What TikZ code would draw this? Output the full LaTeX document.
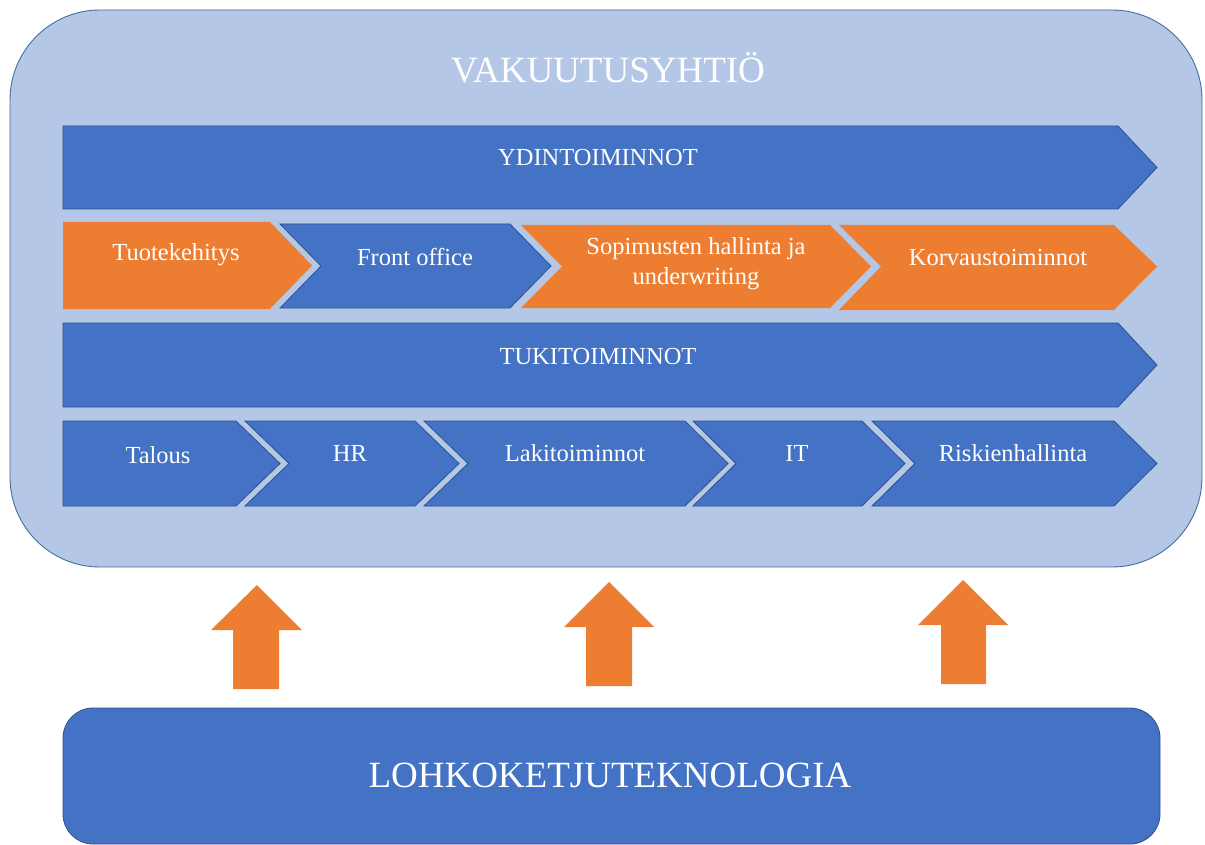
\documentclass[tikz,border=0pt]{standalone}
\usepackage{fontspec}
\setmainfont{Liberation Serif}
\definecolor{outerfill}{HTML}{B4C7E7}
\definecolor{outerline}{HTML}{41719C}
\definecolor{bluefill}{HTML}{4472C4}
\definecolor{blueline}{HTML}{2F528F}
\definecolor{orangefill}{HTML}{ED7D31}
\begin{document}
\begin{tikzpicture}[x=1pt,y=-1pt,
  bluebox/.style={fill=bluefill,draw=blueline,line width=0.8pt},
  orangebox/.style={fill=orangefill,draw=none},
  lbl/.style={text=white,font=\fontsize{24.5}{30}\selectfont,align=center,inner sep=0pt},
  uparrow/.style={fill=orangefill,draw=none}]
\useasboundingbox (0,0) rectangle (1205,845);
% outer container
\draw[fill=outerfill,draw=outerline,line width=0.9pt,rounded corners=90pt] (10,10) rectangle (1202,567);
\node[text=white,font=\fontsize{37}{42}\selectfont,inner sep=0pt] (title) at (608,68) {VAKUUTUSYHTIÖ};
% row 1
\draw[bluebox] (63,126) -- (1118,126) -- (1157,167.5) -- (1118,209) -- (63,209) -- cycle;
\node[lbl] (core) at (598,158) {YDINTOIMINNOT};
% row 2
\draw[orangebox] (63,222) -- (270,222) -- (312,265.5) -- (270,309) -- (63,309) -- cycle;
\node[lbl] (c1) at (176,255) {Tuotekehitys};
\draw[bluebox] (280,224) -- (510,224) -- (551,266) -- (510,308) -- (280,308) -- (321,266) -- cycle;
\node[lbl] (c2) at (415,257) {Front office};
\draw[orangebox] (521,225) -- (830,225) -- (871,266.5) -- (830,308) -- (521,308) -- (562,266.5) -- cycle;
\node[lbl] (c3) at (696,264) {Sopimusten hallinta ja\\underwriting};
\draw[orangebox] (839,225) -- (1114,225) -- (1157,266.5) -- (1114,310) -- (839,310) -- (881,266.5) -- cycle;
\node[lbl] (c4) at (998,258) {Korvaustoiminnot};
% row 3
\draw[bluebox] (63,323) -- (1118,323) -- (1157,365) -- (1118,407) -- (63,407) -- cycle;
\node[lbl] (sup) at (598,357) {TUKITOIMINNOT};
% row 4
\draw[bluebox] (63,421) -- (236,421) -- (280,463.5) -- (236,506) -- (63,506) -- cycle;
\node[lbl] (s1) at (158,455) {Talous};
\draw[bluebox] (245,421) -- (415,421) -- (459,463.5) -- (415,506) -- (245,506) -- (289,463.5) -- cycle;
\node[lbl] (s2) at (350,453) {HR};
\draw[bluebox] (424,421) -- (685,421) -- (728,463.5) -- (685,506) -- (424,506) -- (468,463.5) -- cycle;
\node[lbl] (s3) at (575,453) {Lakitoiminnot};
\draw[bluebox] (693,421) -- (862,421) -- (905,463.5) -- (862,506) -- (693,506) -- (736,463.5) -- cycle;
\node[lbl] (s4) at (797,453) {IT};
\draw[bluebox] (872,421) -- (1114,421) -- (1157,463.5) -- (1114,506) -- (872,506) -- (915,463.5) -- cycle;
\node[lbl] (s5) at (1013,453) {Riskienhallinta};
% up arrows
\draw[uparrow] (233,689) -- (233,630) -- (211,630) -- (257,585) -- (302,630) -- (279,630) -- (279,689) -- cycle;
\draw[uparrow] (586,686) -- (586,627) -- (564,627) -- (609,582) -- (654,627) -- (632,627) -- (632,686) -- cycle;
\draw[uparrow] (941,684) -- (941,625) -- (918,625) -- (963,580) -- (1008,625) -- (986,625) -- (986,684) -- cycle;
% bottom box
\draw[fill=bluefill,draw=blueline,line width=0.8pt,rounded corners=30pt] (63,708) rectangle (1160,844);
\node[text=white,font=\fontsize{37}{42}\selectfont,inner sep=0pt] (chain) at (610,775) {LOHKOKETJUTEKNOLOGIA};
\end{tikzpicture}
\end{document}
